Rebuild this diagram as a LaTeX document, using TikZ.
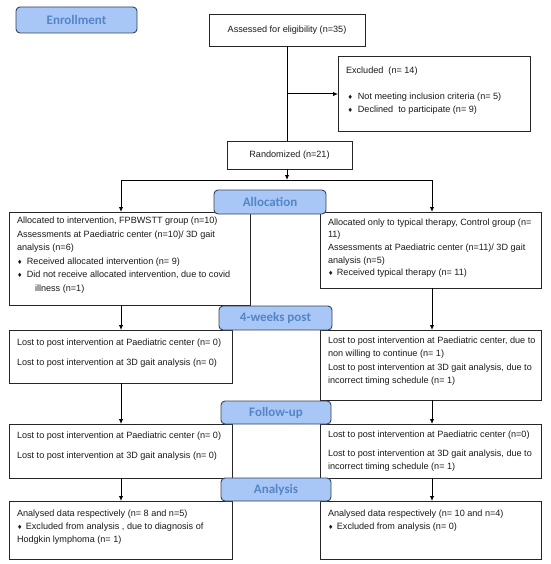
\documentclass[tikz,border=0pt]{standalone}
\usepackage{fontspec}
\setmainfont{Liberation Sans}
\newfontfamily\labfont{Carlito}
\newfontfamily\symfont{DejaVu Sans}
\usetikzlibrary{arrows.meta}
\definecolor{labfill}{RGB}{168,198,246}
\definecolor{labdraw}{RGB}{55,65,85}
\definecolor{labtext}{RGB}{84,134,198}
\newcommand{\bul}{{\symfont\fontsize{6}{6}\selectfont ♦}}
\begin{document}
\begin{tikzpicture}[x=1pt,y=-1pt,
  box/.style={draw=black!85, line width=0.8pt, inner sep=0pt, outer sep=0pt, anchor=north west},
  lab/.style={draw=labdraw, fill=labfill, line width=0.9pt, rounded corners=4pt, inner sep=0pt, outer sep=0pt,
    font=\labfont\bfseries\fontsize{13}{13}\selectfont, text=labtext},
  txt/.style={anchor=north west, inner sep=0pt, outer sep=0pt, align=left, text=black!90},
  ctxt/.style={inner sep=0pt, outer sep=0pt, text=black!90, font=\fontsize{9.1}{12.5}\selectfont},
  conn/.style={line width=1pt, black},
  arr/.style={conn, -{Latex[length=5pt,width=4.5pt]}}]
\useasboundingbox (0,0) rectangle (550,564);

% boxes
\node[box, minimum width=156pt, minimum height=32pt] (assess) at (209,14) {};
\node[box, minimum width=192pt, minimum height=75pt] (excl) at (338,56) {};
\node[box, minimum width=125pt, minimum height=28pt] (rand) at (227,141) {};
\node[box, minimum width=241pt, minimum height=93pt] (allocL) at (9,212) {};
\node[box, minimum width=221pt, minimum height=76pt] (allocR) at (320,212) {};
\node[box, minimum width=223pt, minimum height=53pt] (wkL) at (9,330) {};
\node[box, minimum width=221pt, minimum height=70pt] (wkR) at (320,330) {};
\node[box, minimum width=223pt, minimum height=54pt] (fuL) at (9,424) {};
\node[box, minimum width=221pt, minimum height=54pt] (fuR) at (320,424) {};
\node[box, minimum width=223pt, minimum height=58pt] (anL) at (9,501) {};
\node[box, minimum width=221pt, minimum height=58pt] (anR) at (320,501) {};

% texts
\node[ctxt] (tassess) at (assess.center) {Assessed for eligibility (n=35)};
\node[ctxt] (trand) at (rand.center) {Randomized (n=21)};
\node[txt, font=\fontsize{9.1}{13}\selectfont] (texcl) at (346,67)
  {Excluded\ \ (n= 14)\\[13pt]
   \hspace{1.5pt}\bul\hspace{5pt}Not meeting inclusion criteria (n= 5)\\
   \hspace{1.5pt}\bul\hspace{5pt}Declined\ \ to participate (n= 9)};
\node[txt, font=\fontsize{9.1}{13.5}\selectfont] (tallocL) at (17,217)
  {Allocated to intervention, FPBWSTT group (n=10)\\
   Assessments at Paediatric center (n=10)/ 3D gait\\
   analysis (n=6)\\
   \bul\hspace{4.5pt}Received allocated intervention (n= 9)\\
   \bul\hspace{4.5pt}Did not receive allocated intervention, due to covid\\
   \hspace{18pt}illness (n=1)};
\node[txt, font=\fontsize{9.1}{12.7}\selectfont] (tallocR) at (328,218.5)
  {Allocated only to typical therapy, Control group (n=\\
   11)\\
   Assessments at Paediatric center (n=11)/ 3D gait\\
   analysis (n=5)\\
   \bul\hspace{3.5pt}Received typical therapy (n= 11)};
\node[txt, font=\fontsize{9.1}{12.5}\selectfont] (twkL) at (17,339)
  {Lost to post intervention at Paediatric center (n= 0)\\[7.5pt]
   Lost to post intervention at 3D gait analysis (n= 0)};
\node[txt, font=\fontsize{9.1}{12.5}\selectfont] (twkR) at (328,337)
  {Lost to post intervention at Paediatric center, due to\\
   non willing to continue (n= 1)\\[2pt]
   Lost to post intervention at 3D gait analysis, due to\\
   incorrect timing schedule (n= 1)};
\node[txt, font=\fontsize{9.1}{12.5}\selectfont] (tfuL) at (17,432)
  {Lost to post intervention at Paediatric center (n= 0)\\[7.5pt]
   Lost to post intervention at 3D gait analysis (n= 0)};
\node[txt, font=\fontsize{9.1}{12.5}\selectfont] (tfuR) at (328,431)
  {Lost to post intervention at Paediatric center (n=0)\\[6.5pt]
   Lost to post intervention at 3D gait analysis, due to\\
   incorrect timing schedule (n= 1)};
\node[txt, font=\fontsize{9.1}{12.7}\selectfont] (tanL) at (17,510)
  {Analysed data respectively (n= 8 and n=5)\\
   \bul\hspace{3.5pt}Excluded from analysis , due to diagnosis of\\
   Hodgkin lymphoma (n= 1)};
\node[txt, font=\fontsize{9.1}{12.7}\selectfont] (tanR) at (328,510)
  {Analysed data respectively (n= 10 and n=4)\\
   \bul\hspace{3.5pt}Excluded from analysis (n= 0)};

% connectors
\coordinate (split) at (287,180);
\coordinate (xl) at (121,180);
\coordinate (xr) at (432,180);
\coordinate (ex) at (287,94);
\draw[conn] (assess.south -| split) -- (rand.north -| split);
\draw[arr] (ex) -- (ex -| excl.west);
\draw[arr] (rand.south -| split) -- (split);
\draw[conn] (xl) -- (xr);
\draw[arr] (xl) -- (xl |- allocL.north);
\draw[arr] (xr) -- (xr |- allocR.north);
\draw[arr] (allocL.south -| xl) -- (wkL.north -| xl);
\draw[arr] (allocR.south -| xr) -- (wkR.north -| xr);
\draw[arr] (wkL.south -| xl) -- (fuL.north -| xl);
\draw[arr] (wkR.south -| xr) -- (fuR.north -| xr);
\draw[arr] (fuL.south -| xl) -- (anL.north -| xl);
\draw[arr] (fuR.south -| xr) -- (anR.north -| xr);

% phase labels
\node[lab, minimum width=121pt, minimum height=26pt] (enroll) at (76.5,20) {Enrollment};
\node[lab, minimum width=112pt, minimum height=24pt] (alloc) at (270,202) {Allocation};
\node[lab, minimum width=113pt, minimum height=24pt] (wk) at (275.5,318) {4-weeks post};
\node[lab, minimum width=110pt, minimum height=23pt] (fu) at (276,412.5) {Follow-up};
\node[lab, minimum width=110pt, minimum height=23pt] (an) at (276,489.5) {Analysis};
\end{tikzpicture}
\end{document}
